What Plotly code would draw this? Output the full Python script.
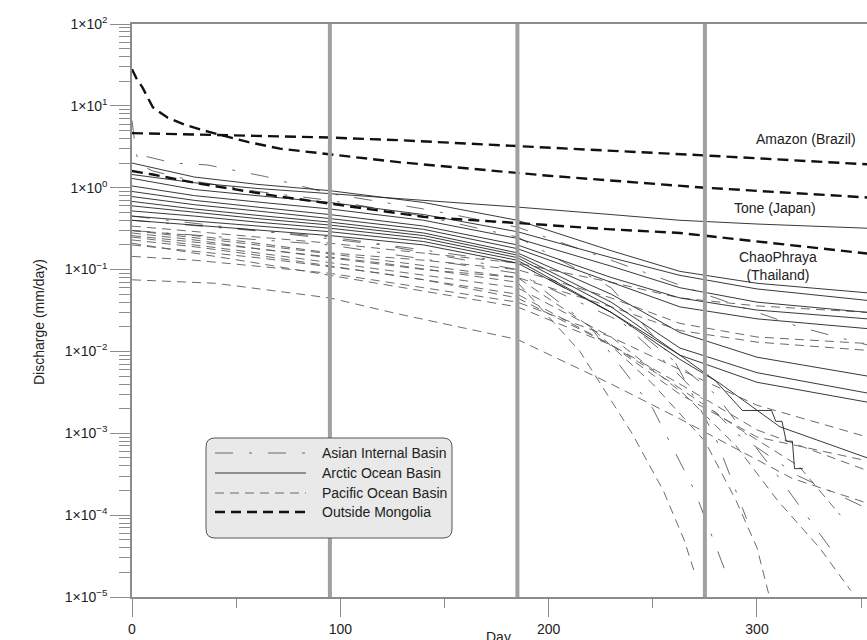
import plotly.graph_objects as go

# ---------------- data (day, discharge mm/day) ----------------
# Outside Mongolia (thick dashed)
amazon_days = [0, 44, 95, 129, 200, 275, 353]
amazon_vals = [4.65, 4.35, 4.1, 3.8, 3.1, 2.48, 1.93]
tone_days = [0, 2, 5, 10, 17, 26, 37, 44, 56, 71, 95, 129, 200, 275, 353]
tone_vals = [28, 22, 16.8, 9.6, 7.2, 5.8, 4.8, 4.3, 3.6, 3.0, 2.55, 2.04, 1.4, 1.0, 0.76]
chao_days = [0, 10, 30, 52, 68, 95, 140, 185, 230, 263, 300, 353]
chao_vals = [1.6, 1.45, 1.15, 0.93, 0.8, 0.64, 0.44, 0.37, 0.31, 0.28, 0.22, 0.157]

# Arctic Ocean Basin (solid)
arc_days = [0, 30, 60, 95, 140, 185, 230, 263, 300, 353]
arc1 = [1.45, 1.15, 0.98, 0.85, 0.70, 0.58, 0.47, 0.40, 0.36, 0.32]
arc2 = [2.0, 1.35, 1.1, 0.92, 0.66, 0.40, 0.17, 0.095, 0.068, 0.052]
arc3 = [1.3, 0.95, 0.8, 0.66, 0.47, 0.29, 0.14, 0.085, 0.058, 0.042]
arc4 = [1.05, 0.8, 0.67, 0.55, 0.40, 0.24, 0.11, 0.06, 0.04, 0.030]
arc5 = [0.9, 0.7, 0.58, 0.47, 0.34, 0.20, 0.08, 0.045, 0.032, 0.025]
arc6 = [0.78, 0.62, 0.52, 0.42, 0.31, 0.18, 0.07, 0.035, 0.025, 0.019]
arc7 = [0.68, 0.55, 0.46, 0.38, 0.28, 0.16, 0.05, 0.017, 0.0085, 0.005]
arc8 = [0.6, 0.5, 0.42, 0.35, 0.26, 0.15, 0.04, 0.011, 0.0055, 0.0031]
arc9 = [0.52, 0.45, 0.38, 0.32, 0.24, 0.14, 0.035, 0.009, 0.0042, 0.0024]
arc10_days = [0, 30, 60, 95, 140, 185, 230, 263, 282, 311, 353]
arc10 = [0.45, 0.39, 0.34, 0.29, 0.22, 0.13, 0.03, 0.008, 0.0041, 0.0012, 0.0005]
arc_step_days = [0, 30, 60, 95, 140, 185, 230, 263, 280, 293, 307, 309, 312, 314, 317, 318, 322]
arc_step_vals = [0.40, 0.35, 0.30, 0.26, 0.20, 0.12, 0.03, 0.009, 0.0044, 0.0019, 0.0019,
                 0.0014, 0.0014, 0.0008, 0.0008, 0.00037, 0.00037]

# Pacific Ocean Basin (thin dashed)
pac_days = [0, 30, 60, 95, 140, 185, 230, 263, 300, 353]
pac1 = [0.34, 0.29, 0.25, 0.21, 0.16, 0.12, 0.07, 0.045, 0.036, 0.030]
pac2 = [0.30, 0.26, 0.21, 0.16, 0.13, 0.10, 0.045, 0.022, 0.015, 0.0125]
pac3 = [0.28, 0.23, 0.18, 0.14, 0.10, 0.08, 0.035, 0.018, 0.013, 0.0103]
pac5 = [0.23, 0.19, 0.15, 0.11, 0.075, 0.045, 0.012, 0.003, 0.0009, 0.00046]
pac6 = [0.21, 0.16, 0.12, 0.085, 0.055, 0.035, 0.012, 0.004, 0.0011, 0.00035]
pac11 = [0.145, 0.13, 0.11, 0.09, 0.06, 0.04, 0.015, 0.006, 0.0022, 0.0009]
pac4_days = [0, 40, 95, 127, 185, 230, 263, 317, 353]
pac4 = [0.075, 0.068, 0.045, 0.029, 0.014, 0.004, 0.0015, 0.00028, 0.00014]
pac7_days = [0, 60, 120, 185, 220, 250, 275, 290, 300, 306]
pac7 = [0.30, 0.20, 0.13, 0.08, 0.02, 0.004, 0.0008, 0.00015, 0.00004, 0.00001]
pac8_days = [0, 60, 120, 185, 230, 265, 290, 310, 330, 345]
pac8 = [0.25, 0.16, 0.10, 0.06, 0.015, 0.003, 0.0007, 0.00015, 0.00004, 0.000012]
pac9_days = [0, 60, 120, 185, 215, 240, 255, 265, 270]
pac9 = [0.26, 0.18, 0.12, 0.07, 0.01, 0.001, 0.0002, 0.00005, 0.00002]
pac10_days = [0, 60, 120, 185, 230, 260, 290, 320, 340]
pac10 = [0.20, 0.14, 0.09, 0.05, 0.012, 0.004, 0.0012, 0.0004, 0.0001]

# Asian Internal Basin (long dash-dot)
asi1_days = [7, 20, 36, 50, 64, 75, 95, 140, 185, 230, 275, 320, 353]
asi1 = [2.4, 2.0, 1.9, 1.63, 1.37, 1.15, 0.85, 0.55, 0.33, 0.13, 0.05, 0.02, 0.012]
asi2_days = [0, 1, 2, 4, 10, 30, 60, 95, 140, 185, 230, 260, 280, 295]
asi2 = [6.6, 3.8, 2.6, 1.9, 1.6, 1.2, 0.9, 0.7, 0.45, 0.25, 0.06, 0.008, 0.0009, 0.00009]
asi3_days = [0, 60, 120, 185, 220, 250, 270, 285]
asi3 = [0.45, 0.3, 0.2, 0.1, 0.02, 0.002, 0.0002, 0.00002]
asi4_days = [0, 95, 185, 240, 280, 310, 335]
asi4 = [0.3, 0.2, 0.09, 0.02, 0.003, 0.0003, 0.00004]
asi5_days = [0, 95, 185, 230, 260, 290, 320, 353]
asi5 = [0.4, 0.25, 0.12, 0.03, 0.006, 0.001, 0.0003, 0.00012]

season_days = [95, 185, 275]

labels = ["Amazon (Brazil)", "Tone (Japan)", "ChaoPhraya<br>(Thailand)"]
legend_names = ["Asian Internal Basin", "Arctic Ocean Basin", "Pacific Ocean Basin", "Outside Mongolia"]
ytick_vals = [1e-5, 1e-4, 1e-3, 1e-2, 1e-1, 1, 10, 100]
ytick_text = ["1×10<sup>−5</sup>", "1×10<sup>−4</sup>", "1×10<sup>−3</sup>", "1×10<sup>−2</sup>",
              "1×10<sup>−1</sup>", "1×10<sup>0</sup>", "1×10<sup>1</sup>", "1×10<sup>2</sup>"]
xtick_vals = [0, 100, 200, 300]
xminor_vals = [50, 150, 250, 350]

# ---------------- styles ----------------
S_OM = dict(color="#111111", width=2.4, dash="11px,6px")
S_ARC = dict(color="#222222", width=0.9)
S_PAC = dict(color="#5a5a5a", width=0.9, dash="9px,6px")
S_ASI = dict(color="#5a5a5a", width=0.9, dash="18px,16px,3px,16px")

fig = go.Figure()

def add(x, y, style):
    fig.add_trace(go.Scatter(x=x, y=y, mode="lines", line=style, showlegend=False,
                             hoverinfo="skip"))

for v in [pac1, pac2, pac3, pac5, pac6, pac11]:
    add(pac_days, v, S_PAC)
add(pac4_days, pac4, S_PAC)
add(pac7_days, pac7, S_PAC)
add(pac8_days, pac8, S_PAC)
add(pac9_days, pac9, S_PAC)
add(pac10_days, pac10, S_PAC)
add(asi1_days, asi1, S_ASI)
add(asi2_days, asi2, S_ASI)
add(asi3_days, asi3, S_ASI)
add(asi4_days, asi4, S_ASI)
add(asi5_days, asi5, S_ASI)
for v in [arc1, arc2, arc3, arc4, arc5, arc6, arc7, arc8, arc9]:
    add(arc_days, v, S_ARC)
add(arc10_days, arc10, S_ARC)
add(arc_step_days, arc_step_vals, S_ARC)
add(amazon_days, amazon_vals, S_OM)
add(tone_days, tone_vals, S_OM)
add(chao_days, chao_vals, S_OM)

for d in season_days:
    fig.add_trace(go.Scatter(x=[d, d], y=[1e-5, 1e2], mode="lines",
                             line=dict(color="#a0a0a0", width=4), showlegend=False,
                             hoverinfo="skip"))

# ---------------- layout ----------------
L, R, T, B = 132, 867, 24, 597
W, H = R - L, B - T
def px(x):
    return (x - L) / W
def py(y):
    return (B - y) / H

AX = "#8c8c8c"
FONT = "Liberation Sans, Arial, sans-serif"
FS = 14

minor_y = [k * 10.0 ** n for n in range(-5, 2) for k in range(2, 10)]

fig.update_layout(
    width=867, height=640,
    margin=dict(l=L, r=0, t=T, b=640 - B),
    paper_bgcolor="white", plot_bgcolor="white",
    font=dict(family=FONT, size=FS, color="#222222"),
    xaxis=dict(range=[0, (R - L) / 2.0833], tickmode="array", tickvals=xtick_vals,
               ticks="outside", ticklen=18, tickwidth=1.2, tickcolor=AX,
               showline=True, linecolor=AX, linewidth=1.5, mirror=True,
               showgrid=False, zeroline=False,
               minor=dict(tickmode="array", tickvals=xminor_vals, ticks="outside",
                          ticklen=9, tickwidth=1.2, tickcolor=AX, showgrid=False),
               tickfont=dict(size=FS)),
    yaxis=dict(type="log", range=[-5, 2], tickmode="array", tickvals=ytick_vals,
               ticktext=ytick_text, ticks="outside", ticklen=20, tickwidth=1.2,
               tickcolor=AX, showline=True, linecolor=AX, linewidth=1.5,
               showgrid=False, zeroline=False,
               minor=dict(tickmode="array", tickvals=minor_y, ticks="outside",
                          ticklen=11, tickwidth=1.2, tickcolor=AX, showgrid=False),
               tickfont=dict(size=FS)),
)

def note(text, x, y, xanchor="center", **kw):
    return dict(text=text, x=px(x), y=py(y), xref="paper", yref="paper",
                xanchor=xanchor, yanchor="middle", showarrow=False,
                font=dict(size=FS), **kw)

ann = [
    note("Discharge (mm/day)", 39, 322, textangle=-90),
    note("Day", 498, 637),
    note(labels[0], 806, 139.5),
    note(labels[1], 775, 208),
    note(labels[2], 778, 266),
]

# legend box (rounded)
bx0, bx1, by0, by1, r = 206, 452, 438, 538, 9
rx, ry = r / W, r / H
X0, X1, Y0, Y1 = px(bx0), px(bx1), py(by1), py(by0)
path = (f"M {X0+rx},{Y1} L {X1-rx},{Y1} Q {X1},{Y1} {X1},{Y1-ry} L {X1},{Y0+ry} "
        f"Q {X1},{Y0} {X1-rx},{Y0} L {X0+rx},{Y0} Q {X0},{Y0} {X0},{Y0+ry} "
        f"L {X0},{Y1-ry} Q {X0},{Y1} {X0+rx},{Y1} Z")
shapes = [dict(type="path", path=path, xref="paper", yref="paper", layer="above",
               fillcolor="#e9e9e9", line=dict(color="#555555", width=1))]
row_y = [453, 473, 493, 512]
leg_styles = [S_ASI, S_ARC, S_PAC, dict(color="#111111", width=2.4, dash="10px,6px")]
for i, (nm, st) in enumerate(zip(legend_names, leg_styles)):
    shapes.append(dict(type="line", xref="paper", yref="paper", layer="above",
                       x0=px(215), x1=px(306), y0=py(row_y[i]), y1=py(row_y[i]),
                       line=st))
    ann.append(note(nm, 320, row_y[i], xanchor="left"))

fig.update_layout(annotations=ann, shapes=shapes)
fig.write_html("out.html")
